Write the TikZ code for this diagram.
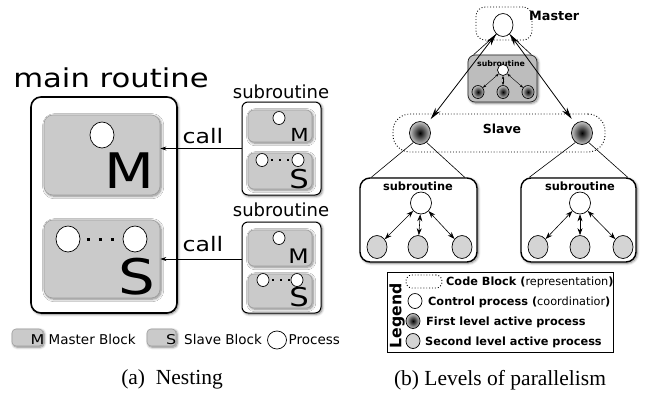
\documentclass[tikz,border=0pt]{standalone}
\usepackage{fontspec}
\setmainfont{DejaVu Sans}
\newfontfamily\widesf{DejaVu Sans}[FakeStretch=1.18]
\newfontfamily\capserif{Liberation Serif}
\usetikzlibrary{arrows.meta,shapes.geometric,shadows.blur}
\definecolor{blkgray}{HTML}{CACACA}
\definecolor{subgray}{HTML}{BDBDBD}
\definecolor{procgray}{HTML}{D4D4D4}
\newcommand{\fsz}[1]{\fontsize{#1}{#1}\selectfont}

\tikzset{
	boxshadow/.style={blur shadow={shadow xshift=1.2pt, shadow yshift=-1.2pt, shadow blur radius=2.5pt, shadow blur steps=8, shadow opacity=50}},
	routinebox/.style={draw, line width=1.6pt, rounded corners=10pt, fill=white, inner sep=0pt, boxshadow},
	mblock/.style={draw=gray!75, line width=0.6pt, fill=blkgray, rounded corners=9pt, inner sep=0pt, boxshadow},
	proc/.style={ellipse, draw, fill=white, line width=0.7pt, inner sep=0pt},
	firstproc/.style={proc, shading=radial, inner color=black, outer color=gray!45},
	secondproc/.style={proc, fill=procgray},
	codeblock/.style={draw, dotted, line width=0.9pt, rounded corners=9pt, inner sep=0pt},
	dotrow/.style={line width=3pt, dash pattern=on 3pt off 9pt, dash phase=5.5pt, shorten >=3pt},
	smalldotrow/.style={line width=2pt, dash pattern=on 2pt off 6pt, dash phase=5pt},
	callarrow/.style={-{Stealth[length=6pt,width=4pt]}, line width=0.7pt},
	levelarrow/.style={{Stealth[length=12pt,width=6pt]}-{Stealth[length=12pt,width=6pt]}, line width=0.8pt},
	innerarrow/.style={{Stealth[length=7pt,width=5pt]}-{Stealth[length=7pt,width=5pt]}, line width=0.6pt},
	tinyarrow/.style={{Stealth[length=3.5pt,width=2.5pt]}-{Stealth[length=3.5pt,width=2.5pt]}, line width=0.4pt},
	boldlbl/.style={font=\bfseries\fsz{11.3}, inner sep=0pt},
}

\begin{document}
\begin{tikzpicture}[x=1pt, y=-1pt]
	\useasboundingbox (0,0) rectangle (651,397);

	% (a) nesting
	\begin{scope}[shift={(0,0)}]
	\node[font=\widesf\fsz{26}, anchor=base, inner sep=0pt] (mainlbl) at (111,87) {main routine};
	\node[routinebox, minimum width=146pt, minimum height=216pt] (main) at (104,205) {};

	\node[mblock, minimum width=116pt, minimum height=80pt] (mblk) at (102,155) {};
	\node[proc, minimum width=24pt, minimum height=26pt] (mproc) at (102,135) {};
	\node[font=\widesf\fsz{49}, anchor=base east, inner sep=0pt] (mlet) at (155,188) {M};

	\node[mblock, minimum width=116pt, minimum height=78pt] (sblk) at (102,259) {};
	\node[proc, minimum width=24pt, minimum height=26pt] (sproca) at (68,239) {};
	\node[proc, minimum width=24pt, minimum height=26pt] (sprocb) at (135,239) {};
	\draw[dotrow] (sproca) -- (sprocb);
	\node[font=\widesf\fsz{49}, anchor=base east, inner sep=0pt] (slet) at (155,294) {S};

	% first subroutine
	\node[font=\fsz{18}, anchor=base, inner sep=0pt] (sublbla) at (281,98) {subroutine};
	\node[routinebox, line width=1pt, rounded corners=6pt, minimum width=79pt, minimum height=93pt] (suba) at (281.5,148.5) {};
	\node[mblock, rounded corners=6pt, minimum width=64pt, minimum height=32pt] (subam) at (280,126) {};
	\node[proc, minimum width=12pt, minimum height=13pt] (subamp) at (279,118) {};
	\node[font=\widesf\fsz{18}, anchor=base east, inner sep=0pt] (subamlet) at (309,141) {M};
	\node[mblock, rounded corners=6pt, minimum width=64pt, minimum height=36pt] (subas) at (280,171) {};
	\node[proc, minimum width=12pt, minimum height=13pt] (subaspa) at (262,160) {};
	\node[proc, minimum width=12pt, minimum height=13pt] (subaspb) at (298,160) {};
	\draw[smalldotrow] (subaspa) -- (subaspb);
	\node[font=\widesf\fsz{26}, anchor=base east, inner sep=0pt] (subaslet) at (309,188) {S};

	% second subroutine
	\node[font=\fsz{18}, anchor=base, inner sep=0pt] (sublblb) at (281,216) {subroutine};
	\node[routinebox, line width=1pt, rounded corners=6pt, minimum width=79pt, minimum height=91pt] (subb) at (281.5,267.5) {};
	\node[mblock, rounded corners=6pt, minimum width=64pt, minimum height=36pt] (subbm) at (280,248) {};
	\node[proc, minimum width=12pt, minimum height=13pt] (subbmp) at (279,238) {};
	\node[font=\widesf\fsz{20}, anchor=base east, inner sep=0pt] (subbmlet) at (309,263) {M};
	\node[mblock, rounded corners=6pt, minimum width=64pt, minimum height=34pt] (subbs) at (280,291) {};
	\node[proc, minimum width=12pt, minimum height=13pt] (subbspa) at (263,280) {};
	\node[proc, minimum width=12pt, minimum height=13pt] (subbspb) at (297,280) {};
	\draw[smalldotrow] (subbspa) -- (subbspb);
	\node[font=\widesf\fsz{26}, anchor=base east, inner sep=0pt] (subbslet) at (309,306) {S};

	% calls
	\node[font=\widesf\fsz{20}, anchor=base, inner sep=0pt] (calla) at (203,143) {call};
	\node[font=\widesf\fsz{20}, anchor=base, inner sep=0pt] (callb) at (203,251) {call};
	\draw[callarrow] (suba.west) -- (suba.west -| mblk.east);
	\draw[callarrow] (sblk.east -| subb.west) -- (sblk.east);

	% legend
	\node[mblock, rounded corners=4pt, minimum width=31pt, minimum height=17pt] (legm) at (27.5,337.5) {};
	\node[font=\widesf\fsz{13.5}, anchor=base east, inner sep=0pt] (legmlet) at (44.5,344) {M};
	\node[font=\fsz{13.5}, anchor=base west, inner sep=0pt] (legmtxt) at (48.5,344) {Master Block};
	\node[mblock, rounded corners=4pt, minimum width=29pt, minimum height=17pt] (legs) at (161.5,337.5) {};
	\node[font=\widesf\fsz{13.5}, anchor=base east, inner sep=0pt] (legslet) at (176.5,344) {S};
	\node[font=\fsz{13.5}, anchor=base west, inner sep=0pt] (legstxt) at (184,344) {Slave Block};
	\node[proc, minimum width=19pt, minimum height=18pt] (legp) at (277,340) {};
	\node[font=\fsz{13.5}, anchor=base west, inner sep=0pt] (legptxt) at (288.5,344) {Process};

	\node[font=\capserif\fsz{21.5}, anchor=base, inner sep=0pt] (capa) at (172,384) {(a)\ \ Nesting};
	\end{scope}

	% (b) levels of parallelism
	\begin{scope}[shift={(350,0)}]
	\node[codeblock, minimum width=56pt, minimum height=33pt] (mcode) at (154,23.5) {};
	\node[proc, minimum width=20pt, minimum height=23pt] (master) at (153,25) {};
	\node[font=\bfseries\fsz{12.8}, anchor=base west, inner sep=0pt] (masterlbl) at (179,20) {Master};

	\node[draw=gray!30!black, line width=0.7pt, fill=subgray, rounded corners=7pt, minimum width=69pt, minimum height=47pt, inner sep=0pt, boxshadow] (gsub) at (152.5,78.5) {};
	\node[font=\bfseries\fsz{7.8}, anchor=base, inner sep=0pt] (gsublbl) at (151,66) {subroutine};
	\node[proc, minimum width=11pt, minimum height=11pt] (gw) at (153,70) {};
	\node[firstproc, minimum width=12pt, minimum height=13pt] (ga) at (128,92) {};
	\node[firstproc, minimum width=12pt, minimum height=13pt] (gb) at (153,92) {};
	\node[firstproc, minimum width=12pt, minimum height=13pt] (gc) at (178,92) {};
	\draw[tinyarrow] (gw) -- (ga);
	\draw[tinyarrow] (gw) -- (gb);
	\draw[tinyarrow] (gw) -- (gc);
	\draw[line width=0.6pt] (master.235) -- ([xshift=6pt]gsub.north west);
	\draw[line width=0.6pt] (master.305) -- ([xshift=-6pt]gsub.north east);

	\node[codeblock, rounded corners=17pt, minimum width=212pt, minimum height=38pt] (scode) at (149,133) {};
	\node[font=\bfseries\fsz{12.5}, anchor=base, inner sep=0pt] (slavelbl) at (152,133) {Slave};
	\node[firstproc, minimum width=21pt, minimum height=23pt] (slavea) at (70,133) {};
	\node[firstproc, minimum width=21pt, minimum height=23pt] (slaveb) at (232,133) {};
	\draw[levelarrow, shorten >=6pt] (master) -- (slavea);
	\draw[levelarrow, shorten >=6pt] (master) -- (slaveb);

	% slave subroutines
	\node[routinebox, line width=1.4pt, minimum width=117pt, minimum height=84pt] (suba) at (68.5,220) {};
	\node[boldlbl, font=\bfseries\fsz{11.4}, anchor=base] (subalbl) at (68,190) {subroutine};
	\node[proc, minimum width=21pt, minimum height=22pt] (wa) at (71,203) {};
	\node[secondproc, minimum width=20pt, minimum height=23pt] (pa1) at (27,247) {};
	\node[secondproc, minimum width=20pt, minimum height=23pt] (pa2) at (68,247) {};
	\node[secondproc, minimum width=20pt, minimum height=23pt] (pa3) at (112,247) {};
	\draw[innerarrow] (wa) -- (pa1);
	\draw[innerarrow] (wa) -- (pa2);
	\draw[innerarrow] (wa) -- (pa3);
	\draw[line width=0.6pt] (slavea.235) -- ([xshift=12pt]suba.north west);
	\draw[line width=0.6pt] (slavea.305) -- ([xshift=-13pt]suba.north east);

	\node[routinebox, line width=1.4pt, minimum width=115pt, minimum height=84pt] (subb) at (228.5,220) {};
	\node[boldlbl, font=\bfseries\fsz{11.4}, anchor=base] (subblbl) at (230,190) {subroutine};
	\node[proc, minimum width=21pt, minimum height=22pt] (wb) at (230,203) {};
	\node[secondproc, minimum width=20pt, minimum height=23pt] (pb1) at (188,247) {};
	\node[secondproc, minimum width=20pt, minimum height=23pt] (pb2) at (230,247) {};
	\node[secondproc, minimum width=20pt, minimum height=23pt] (pb3) at (273,247) {};
	\draw[innerarrow] (wb) -- (pb1);
	\draw[innerarrow] (wb) -- (pb2);
	\draw[innerarrow] (wb) -- (pb3);
	\draw[line width=0.6pt] (slaveb.235) -- ([xshift=9pt]subb.north west);
	\draw[line width=0.6pt] (slaveb.305) -- ([xshift=-9pt]subb.north east);

	% legend
	\node[draw, line width=0.8pt, minimum width=226pt, minimum height=80pt, inner sep=0pt] (legend) at (150,312) {};
	\node[font=\bfseries\fsz{15.7}, rotate=90, inner sep=0pt] (legendlbl) at (47,316) {Legend};
	\node[codeblock, rounded corners=6pt, minimum width=36pt, minimum height=13pt] (legcode) at (74,281.5) {};
	\node[boldlbl, anchor=base west] (legcodetxt) at (96,285) {Code Block (\mdseries representation\bfseries )};
	\node[proc, minimum width=14pt, minimum height=15pt] (legctrl) at (65,301) {};
	\node[boldlbl, anchor=base west] (legctrltxt) at (78,305) {Control process (\mdseries coordinatior\bfseries )};
	\node[firstproc, minimum width=14pt, minimum height=15pt] (legfirst) at (63,321) {};
	\node[boldlbl, anchor=base west] (legfirsttxt) at (76,325) {First level active process};
	\node[secondproc, minimum width=14pt, minimum height=15pt] (legsecond) at (63,341) {};
	\node[boldlbl, anchor=base west] (legsecondtxt) at (75,345) {Second level active process};

	\node[font=\capserif\fsz{21.5}, anchor=base, inner sep=0pt] (capb) at (150,385) {(b)\ Levels\ of\ parallelism};
	\end{scope}
\end{tikzpicture}
\end{document}
